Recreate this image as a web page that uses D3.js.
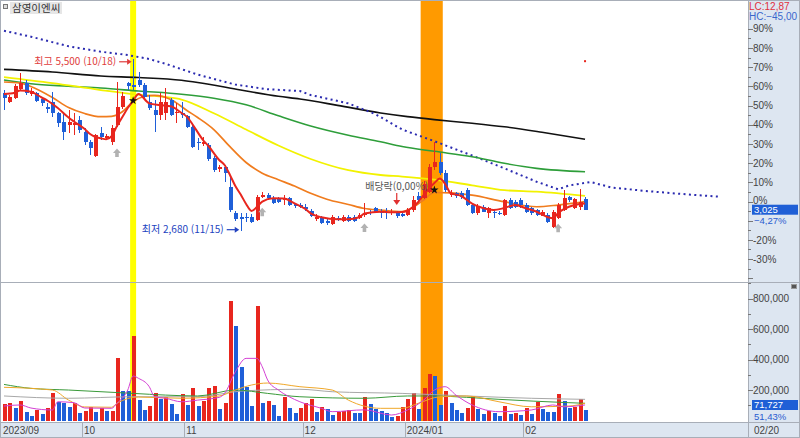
<!DOCTYPE html>
<html lang="ko">
<head>
<meta charset="utf-8">
<title>삼영이엔씨</title>
<script src="https://cdn.jsdelivr.net/npm/d3@7/dist/d3.min.js"></script>
<style>
html,body{margin:0;padding:0;background:#fff;}
svg{display:block;}
</style>
</head>
<body>
<svg id="chart" width="800" height="438"></svg>
<script>
// ---------------- DATA ----------------
const title = "삼영이엔씨";
const dates = [
"2023-09-07","2023-09-08","2023-09-11","2023-09-12","2023-09-13","2023-09-14","2023-09-15","2023-09-18","2023-09-19","2023-09-20","2023-09-21","2023-09-22","2023-09-25","2023-09-26","2023-09-27",
"2023-10-04","2023-10-05","2023-10-06","2023-10-10","2023-10-11","2023-10-12","2023-10-13","2023-10-16","2023-10-17","2023-10-18","2023-10-19","2023-10-20","2023-10-23","2023-10-24","2023-10-25","2023-10-26","2023-10-27","2023-10-30","2023-10-31",
"2023-11-01","2023-11-02","2023-11-03","2023-11-06","2023-11-07","2023-11-08","2023-11-09","2023-11-10","2023-11-13","2023-11-14","2023-11-15","2023-11-16","2023-11-17","2023-11-20","2023-11-21","2023-11-22","2023-11-23","2023-11-24","2023-11-27","2023-11-28","2023-11-29","2023-11-30",
"2023-12-01","2023-12-04","2023-12-05","2023-12-06","2023-12-07","2023-12-08","2023-12-11","2023-12-12","2023-12-13","2023-12-14","2023-12-15","2023-12-18","2023-12-19","2023-12-20","2023-12-21","2023-12-22","2023-12-26","2023-12-27","2023-12-28",
"2024-01-02","2024-01-03","2024-01-04","2024-01-05","2024-01-08","2024-01-09","2024-01-10","2024-01-11","2024-01-12","2024-01-15","2024-01-16","2024-01-17","2024-01-18","2024-01-19","2024-01-22","2024-01-23","2024-01-24","2024-01-25","2024-01-26","2024-01-29","2024-01-30","2024-01-31",
"2024-02-01","2024-02-02","2024-02-05","2024-02-06","2024-02-07","2024-02-08","2024-02-13","2024-02-14","2024-02-15","2024-02-16","2024-02-19","2024-02-20"];

const open = [4950,4795,4860,5005,5115,4930,4940,4840,4710,4805, 4610,4475,4420,4420,4500,4310,4145,3910,4290,4200, 4145,4420,4720,5110,5080,5160,5080,4805,4665,4585, 4615,4830,4610,4610,4565,4390,4145,4105,4090,3870, 3690,3735,3405,2965,2905,2910,2910,2855,3240,3265, 3215,3195,3185,3215,3120,3100,3075,3010,2865,2900, 2845,2790,2890,2845,2910,2910,2895,2940,2990,3045, 2990,2990,2965,2965,2955,2940,3020,3250,3215,3320, 3735,3815,3625,3265,3295,3305,3350,3100,2965,3075, 2965,2990,2975,2940,3185,3155,3185,3100,3045,3020, 2925,2940,2745,2885,3020,3230,3045,3075,3200];
const high = [4995,4910,5095,5280,5160,5030,4960,4885,4775,4960, 4635,4615,4665,4615,4565,4370,4170,4270,4390,4270, 4420,5130,4960,5130,5500,5295,5110,4910,4830,4945, 5030,4865,4775,4805,4585,4420,4205,4225,4125,3910, 3760,3760,3570,3005,2970,2965,2955,3265,3315,3305, 3250,3235,3265,3235,3135,3130,3120,3035,2955,2920, 2890,2940,2920,2940,2940,2935,2970,3130,3020,3070, 3030,3045,3035,3005,2990,3055,3250,3315,3495,3775, 4145,3960,3680,3350,3320,3335,3380,3135,3120,3100, 3070,3020,3005,3200,3210,3185,3215,3135,3070,3035, 3020,2970,3020,3130,3350,3250,3215,3360,3235];
const low = [4665,4780,4845,4995,4910,4895,4800,4730,4610,4555, 4390,4170,4285,4255,4285,4090,3925,3890,4170,4170, 4090,4385,4690,4995,4990,5045,4865,4665,4310,4500, 4500,4565,4445,4535,4370,4040,4010,4075,3825,3645, 3650,3485,2985,2840,2680,2830,2805,2840,3215,3185, 3125,3135,3100,3085,3060,3050,3005,2905,2840,2790, 2775,2775,2840,2825,2830,2825,2880,2910,2940,2970, 2885,2865,2945,2895,2905,2920,2990,3170,3200,3300, 3680,3595,3315,3240,3215,3200,3085,2955,2945,2980, 2885,2885,2930,2920,3035,3055,3050,2970,2945,2915, 2915,2805,2725,2870,3005,3155,3035,3020,3020];
const close = [4860,4885,5060,5105,4940,4985,4820,4775,4690,4610, 4445,4310,4475,4455,4335,4145,4035,4255,4225,4240, 4365,4720,4900,5060,5040,5080,4885,4700,4585,4805, 4805,4585,4640,4585,4390,4060,4120,4145,3855,3680, 3725,3625,3020,2865,2865,2885,2830,3240,3265,3215, 3140,3155,3215,3100,3085,3075,3030,2920,2910,2810, 2800,2900,2865,2910,2845,2845,2940,2975,2965,2990, 2965,2965,2990,2920,2925,3020,3185,3185,3450,3735, 3815,3625,3350,3300,3250,3230,3100,2965,3085,2990, 3045,2965,2955,3185,3045,3075,3100,2990,2965,2940, 2990,2830,2990,3100,3215,3185,3195,3160,3025];
const volume = [106000,113000,80000,128000,54000,31000,69000,43000,80000,178000, 123000,113000,90000,113000,47000,64000,87000,54000,80000,62000, 64000,408000,195000,192000,554000,134000,69000,95000,178000,139000, 156000,108000,41000,174000,102000,211000,95000,130000,211000,228000, 75000,117000,784000,622000,349000,218000,95000,751000,117000,128000, 102000,30000,156000,84000,51000,80000,117000,141000,58000,87000, 75000,36000,54000,62000,69000,51000,50000,156000,108000,75000, 62000,47000,25000,30000,90000,143000,178000,75000,215000,305000, 294000,102000,193000,113000,69000,51000,84000,161000,75000,41000, 62000,47000,31000,95000,43000,51000,36000,80000,43000,121000, 75000,58000,57000,172000,128000,80000,90000,139470,71727];

// moving averages: [day index, price]
const ma5 = [[0,4929],[2,4951],[3,4987],[5,4967],[7,4872],[8,4826],[10,4699],[12,4543],[13,4477],[15,4353],[16,4271],[17,4222],[18,4200],[19,4184],[20,4238],[21,4403],[22,4551],[23,4699],[24,4819],[25,4929],[27,4776],[29,4748],[31,4727],[33,4617],[34,4556],[35,4436],[37,4172],[38,4074],[40,3843],[41,3761],[42,3596],[43,3415],[44,3275],[45,3119],[46,3004],[47,3069],[48,3157],[50,3213],[52,3209],[54,3130],[56,3037],[57,2966],[59,2900],[62,2867],[64,2867],[66,2900],[67,2962],[70,2992],[72,2982],[74,2987],[75,3012],[76,3069],[77,3152],[78,3267],[80,3465],[81,3539],[82,3448],[83,3300],[85,3251],[87,3127],[89,3053],[91,3020],[93,3053],[95,3102],[97,3048],[99,2992],[101,2905],[102,2883],[103,2971],[105,3074],[107,3119],[108,3127]];
const ma20 = [[0,5127],[3,5110],[5,5053],[9,4872],[12,4707],[15,4608],[18,4556],[20,4562],[22,4638],[24,4803],[26,4888],[28,4908],[31,4839],[34,4658],[36,4543],[39,4345],[42,4062],[45,3802],[48,3626],[51,3519],[54,3415],[57,3295],[60,3198],[64,3111],[67,3045],[70,3020],[74,2995],[76,3061],[78,3185],[80,3308],[83,3303],[87,3264],[93,3157],[99,3074],[103,3102],[108,3157]];
const ma60 = [[0,5209],[9,5110],[18,4995],[25,4918],[30,4880],[33,4839],[39,4612],[45,4345],[51,4082],[57,3860],[64,3675],[70,3596],[74,3571],[80,3519],[87,3427],[93,3346],[99,3321],[108,3251]];
const ma120 = [[0,5160],[5,5099],[12,5058],[18,5028],[25,4979],[33,4926],[39,4860],[45,4752],[51,4571],[57,4403],[64,4251],[70,4144],[74,4065],[80,3986],[87,3897],[93,3789],[99,3706],[108,3650]];
const ma240 = [[0,5335],[9,5292],[18,5226],[25,5201],[33,5155],[36,5119],[44,4995],[51,4892],[55,4847],[62,4743],[70,4617],[75,4557],[80,4508],[87,4449],[93,4390],[100,4299],[108,4184]];
const leadLine = [[0,5971],[5,5873],[12,5715],[18,5626],[23,5571],[27,5506],[30,5428],[36,5249],[43,5084],[49,5008],[55,4979],[57,4913],[64,4776],[69,4600],[74,4345],[80,4153],[87,3917],[93,3706],[99,3486],[103,3361],[105,3423],[109,3481],[113,3389],[119,3336],[125,3290],[133,3239]];

// volume moving averages: [day index, shares]
const volMa5 = [[0,95000],[3,102000],[5,82000],[9,69000],[10,123000],[13,117000],[15,82000],[20,80000],[21,113000],[23,200000],[24,292000],[25,277000],[27,222000],[28,156000],[30,146000],[33,123000],[36,134000],[40,152000],[41,178000],[43,320000],[45,408000],[47,408000],[48,353000],[49,266000],[51,200000],[53,156000],[55,123000],[59,80000],[61,58000],[67,70000],[72,36000],[75,69000],[78,134000],[80,200000],[82,222000],[84,167000],[87,102000],[92,58000],[98,69000],[102,102000],[104,90000],[108,102000]];
const volMa20 = [[0,218000],[9,200000],[12,134000],[15,89000],[20,87000],[21,113000],[25,154000],[33,146000],[40,161000],[43,200000],[46,233000],[49,246000],[55,222000],[61,200000],[64,134000],[70,80000],[74,80000],[77,113000],[81,156000],[86,161000],[92,123000],[98,90000],[105,95000],[108,113000]];
const volMa60 = [[0,237000],[5,211000],[12,200000],[24,178000],[30,167000],[36,161000],[43,200000],[49,178000],[55,156000],[67,146000],[75,161000],[80,161000],[86,152000],[92,139000],[105,117000],[108,113000]];
const volMa120 = [[0,161000],[12,146000],[24,156000],[36,156000],[44,193000],[55,205000],[61,189000],[74,178000],[86,161000],[98,146000],[108,139000]];

const prevClose = 3160;
const pctTicks = [-30,-20,-10,0,10,20,30,40,50,60,70,80,90];
const volTicks = [200000,400000,600000,800000];
const yellowBand = ["2023-10-18","2023-10-18"];
const orangeBand = ["2024-01-05","2024-01-10"];
const upSignalDates = ["2023-10-13","2023-11-21","2023-12-18","2024-02-13"];
const upSignalPrices = [3960,2985,2725,2718];
const starDates = ["2023-10-18","2024-01-09"];
const starPrices = [4820,3350];
const exDivDate = "2023-12-27";
const exDivLabel = "배당락(0,00%)";
const redTickDate = "2024-02-20", redTickPrice = 5470;

// ---------------- LAYOUT ----------------
const W = 800, H = 438, axisX = 748;
const priceTop = 0, priceBot = 282, volTop = 283, volBot = 421, dateTop = 422;
const n = dates.length, step = 5.38;
const UP = "#e8261e", DN = "#1f5fd8";
const panelBg = "#dde6f1", lineCol = "#a8aeb8";
const numFont = "'Liberation Sans',Arial,sans-serif";
const krFont = "'Noto Sans CJK KR','Noto Sans',sans-serif";

const x = d3.scaleLinear().domain([0, n - 1]).range([4, 4 + step * (n - 1)]);
const priceDomain = [1835, 6477];
const y = d3.scaleLinear().domain(priceDomain).range([priceBot, priceTop]);
const pct = p => (p / prevClose - 1) * 100;
const yPct = d3.scaleLinear().domain(priceDomain.map(pct)).range([priceBot, priceTop]);
const yV = d3.scaleLinear().domain([0, 903000]).range([420.5, volTop]);
const idx = d => dates.indexOf(d);
const comma = (v, f) => d3.format(f)(v).replace(".", ",");

const svg = d3.select("#chart");
svg.append("rect").attr("width", W).attr("height", H).attr("fill", "#fff");

const defs = svg.append("defs");
defs.append("clipPath").attr("id", "cp").append("rect").attr("x", 1).attr("y", 1).attr("width", axisX - 1).attr("height", priceBot - 1);
defs.append("clipPath").attr("id", "cv").append("rect").attr("x", 1).attr("y", volTop).attr("width", axisX - 1).attr("height", volBot - volTop);

// highlight bands (full height)
const bands = svg.append("g");
[[yellowBand, "#ffff00"], [orangeBand, "#ff9a00"]].forEach(([b, col]) => {
  const a = idx(b[0]), e = idx(b[1]);
  bands.append("rect").attr("x", x(a) - step / 2 - 0.3).attr("width", x(e) - x(a) + step + 0.6)
    .attr("y", 1).attr("height", volBot - 1).attr("fill", col);
});

// ---------------- PRICE PANEL ----------------
const gp = svg.append("g").attr("clip-path", "url(#cp)");
const lineP = d3.line().x(d => x(d[0])).y(d => y(d[1])).curve(d3.curveMonotoneX);
gp.append("path").attr("d", lineP(ma240)).attr("fill", "none").attr("stroke", "#111").attr("stroke-width", 1.6);
gp.append("path").attr("d", d3.line().x(d => x(d[0])).y(d => y(d[1]))(leadLine)).attr("fill", "none")
  .attr("stroke", "#2b2bb0").attr("stroke-width", 2).attr("stroke-dasharray", "2,3.4");
gp.append("path").attr("d", lineP(ma120)).attr("fill", "none").attr("stroke", "#2e9e3a").attr("stroke-width", 1.6);
gp.append("path").attr("d", lineP(ma60)).attr("fill", "none").attr("stroke", "#f2f200").attr("stroke-width", 1.8);
gp.append("path").attr("d", lineP(ma20)).attr("fill", "none").attr("stroke", "#f07c1e").attr("stroke-width", 1.7);

const cdata = dates.map((d, i) => ({
  i, o: open[i], h: high[i], l: low[i], c: close[i],
  up: close[i] > open[i] || (close[i] === open[i] && i > 0 && close[i] >= close[i - 1])
}));
const cg = gp.append("g").attr("shape-rendering", "crispEdges");
cg.selectAll("rect.w").data(cdata).join("rect").attr("class", "w")
  .attr("x", d => Math.round(x(d.i))).attr("width", 1)
  .attr("y", d => y(d.h)).attr("height", d => Math.max(1, y(d.l) - y(d.h)))
  .attr("fill", d => d.up ? UP : DN);
cg.selectAll("rect.b").data(cdata).join("rect").attr("class", "b")
  .attr("x", d => Math.round(x(d.i)) - 1.5).attr("width", 4)
  .attr("y", d => y(Math.max(d.o, d.c))).attr("height", d => Math.max(1.2, Math.abs(y(d.o) - y(d.c))))
  .attr("fill", d => d.up ? UP : DN);

gp.append("path").attr("d", lineP(ma5)).attr("fill", "none").attr("stroke", UP).attr("stroke-width", 2);

// markers
const arrowPath = "M0,-4.5L4,0L1.8,0L1.8,4L-1.8,4L-1.8,0L-4,0Z";
upSignalDates.forEach((d, k) => {
  gp.append("path").attr("d", arrowPath).attr("transform", `translate(${x(idx(d))},${y(upSignalPrices[k])})`).attr("fill", "#b2b2b2");
});
starDates.forEach((d, k) => {
  gp.append("path").attr("d", d3.symbol(d3.symbolStar).size(22)()).attr("transform", `translate(${x(idx(d))},${y(starPrices[k])})`).attr("fill", "#111");
});
gp.append("rect").attr("x", x(idx(redTickDate)) - 1).attr("y", y(redTickPrice) - 1).attr("width", 2).attr("height", 2).attr("fill", UP);

// highest / lowest annotations
const hiI = d3.maxIndex(high), loI = d3.minIndex(low);
const md = d => d.slice(5, 7) + "/" + d.slice(8, 10);
const ann = svg.append("g");
function annot(i, price, label, col) {
  const ax = x(i), ay = y(price);
  ann.append("text").attr("x", ax - 17).attr("y", ay + 3.5).attr("text-anchor", "end")
    .attr("font-family", krFont).attr("font-size", 10).attr("fill", col).text(label);
  ann.append("line").attr("x1", ax - 14).attr("x2", ax - 5).attr("y1", ay).attr("y2", ay).attr("stroke", col).attr("stroke-width", 1.2);
  ann.append("path").attr("d", `M${ax - 1.5},${ay}L${ax - 6},${ay - 3}L${ax - 6},${ay + 3}Z`).attr("fill", col);
}
annot(hiI, high[hiI] - 40, `최고 ${d3.format(",")(high[hiI])} (${md(dates[hiI])})`, "#e03c3c");
annot(loI, low[loI] + 16, `최저 ${d3.format(",")(low[loI])} (${md(dates[loI])})`, "#2242c0");

// ex-dividend
const ei = idx(exDivDate), ex = x(ei), ey = y(high[ei]) - 6;
ann.append("text").attr("x", ex).attr("y", ey - 15).attr("text-anchor", "middle")
  .attr("font-family", krFont).attr("font-size", 10).attr("fill", "#555").text(exDivLabel);
ann.append("line").attr("x1", ex).attr("x2", ex).attr("y1", ey - 12).attr("y2", ey - 4).attr("stroke", "#e03030").attr("stroke-width", 1.2);
ann.append("path").attr("d", `M${ex},${ey}L${ex - 3.5},${ey - 5}L${ex + 3.5},${ey - 5}Z`).attr("fill", "#e03030");

// ---------------- VOLUME PANEL ----------------
const gv = svg.append("g").attr("clip-path", "url(#cv)");
gv.append("g").attr("shape-rendering", "crispEdges").selectAll("rect").data(volume).join("rect")
  .attr("x", (v, i) => Math.round(x(i)) - 1.5).attr("width", 4)
  .attr("y", v => yV(v)).attr("height", v => volBot - yV(v))
  .attr("fill", (v, i) => (i === 0 || v > volume[i - 1]) ? UP : DN);
const lineV = d3.line().x(d => x(d[0])).y(d => yV(d[1])).curve(d3.curveMonotoneX);
[[volMa120, "#a8a8a8"], [volMa60, "#3a9a3a"], [volMa20, "#f0a82a"], [volMa5, "#d43fd4"]].forEach(([s, c]) => {
  gv.append("path").attr("d", lineV(s)).attr("fill", "none").attr("stroke", c).attr("stroke-width", 1);
});

// ---------------- FRAMES / AXIS PANELS ----------------
svg.append("rect").attr("x", axisX).attr("y", 0).attr("width", W - axisX).attr("height", H).attr("fill", panelBg);
svg.append("rect").attr("x", 0).attr("y", dateTop).attr("width", W).attr("height", H - dateTop).attr("fill", panelBg);
const fr = svg.append("g").attr("stroke", lineCol).attr("shape-rendering", "crispEdges");
fr.append("line").attr("x1", 0).attr("x2", W).attr("y1", 0.5).attr("y2", 0.5);
fr.append("line").attr("x1", 0.5).attr("x2", 0.5).attr("y1", 0).attr("y2", H);
fr.append("line").attr("x1", axisX + 0.5).attr("x2", axisX + 0.5).attr("y1", 0).attr("y2", H);
fr.append("line").attr("x1", 0).attr("x2", W).attr("y1", priceBot + 0.5).attr("y2", priceBot + 0.5);
fr.append("line").attr("x1", 0).attr("x2", W).attr("y1", dateTop + 0.5).attr("y2", dateTop + 0.5);
fr.append("line").attr("x1", W - 0.5).attr("x2", W - 0.5).attr("y1", 0).attr("y2", H);
fr.append("line").attr("x1", 0).attr("x2", W).attr("y1", H - 0.5).attr("y2", H - 0.5);

// title
svg.append("rect").attr("x", 3.5).attr("y", 4.5).attr("width", 4).attr("height", 4).attr("fill", "#ddd").attr("stroke", "#777");
svg.append("rect").attr("x", 10).attr("y", 2).attr("width", 52).attr("height", 12).attr("fill", "#e6e6e6");
svg.append("text").attr("x", 12).attr("y", 11.5).attr("font-family", krFont).attr("font-size", 10.5).attr("fill", "#333").text(title);

// price axis (percent of previous close)
const last = n - 1, lastC = close[last];
const ly = y(lastC);
const ax = svg.append("g");
d3.range(-40, 100, 5).forEach(t => {
  const yy = Math.round(yPct(t)) + 0.5;
  if (yy < 24 || yy > priceBot - 1) return;
  ax.append("line").attr("x1", axisX).attr("x2", axisX + (t % 10 === 0 ? 5 : 3)).attr("y1", yy).attr("y2", yy).attr("stroke", "#777");
});
pctTicks.forEach(t => {
  const ty = yPct(t);
  if (ty > ly + 4 && ty < ly + 22) return;          // hidden behind the last-price tag
  const by = Math.abs(ty - ly) < 10 ? ly - 6 : ty + 3.6;
  ax.append("text").attr("x", axisX + 5).attr("y", by).attr("font-family", numFont).attr("font-size", 10)
    .attr("fill", "#444").text(t + "%");
});
// LC / HC
const LC = (lastC / d3.min(low) - 1) * 100, HC = (lastC / d3.max(high) - 1) * 100;
ax.append("text").attr("x", axisX + 1).attr("y", 9.5).attr("font-family", numFont).attr("font-size", 10).attr("fill", "#e0303c").text("LC:" + comma(LC, ".2f"));
ax.append("text").attr("x", axisX + 1).attr("y", 19.5).attr("font-family", numFont).attr("font-size", 10).attr("fill", "#3a66cc").text("HC:" + comma(HC, ".2f"));
// last price tag
ax.append("rect").attr("x", axisX + 4).attr("y", ly - 5).attr("width", 46).attr("height", 10).attr("fill", "#1f5fd6");
ax.append("text").attr("x", axisX + 6).attr("y", ly + 3.4).attr("font-family", numFont).attr("font-size", 9.5).attr("fill", "#fff").text(d3.format(",")(lastC));
ax.append("text").attr("x", axisX + 6).attr("y", ly + 14.6).attr("font-family", numFont).attr("font-size", 9.5).attr("fill", "#2a5cd0")
  .text(comma(pct(lastC), ".2f") + "%");

// volume axis
d3.range(100000, 901000, 100000).forEach(t => {
  const yy = Math.round(yV(t)) + 0.5;
  ax.append("line").attr("x1", axisX).attr("x2", axisX + (t % 200000 === 0 ? 5 : 3)).attr("y1", yy).attr("y2", yy).attr("stroke", "#777");
});
volTicks.forEach(t => {
  ax.append("text").attr("x", axisX + 5).attr("y", yV(t) + 3.6).attr("font-family", numFont).attr("font-size", 10).attr("fill", "#444").text(d3.format(",")(t));
});
const lv = volume[last], vy = Math.min(yV(lv), volBot - 16);
ax.append("rect").attr("x", axisX + 4).attr("y", vy - 5).attr("width", 46).attr("height", 10).attr("fill", "#1f5fd6");
ax.append("text").attr("x", axisX + 6).attr("y", vy + 3.4).attr("font-family", numFont).attr("font-size", 9.5).attr("fill", "#fff").text(d3.format(",")(lv));
ax.append("text").attr("x", axisX + 6).attr("y", vy + 14.6).attr("font-family", numFont).attr("font-size", 9.5).attr("fill", "#2a5cd0")
  .text(comma(lv / volume[last - 1] * 100, ".2f") + "%");
ax.append("rect").attr("x", 791.5).attr("y", 284.5).attr("width", 5).attr("height", 4).attr("fill", "#555").attr("stroke", "#999");

// date axis
let prevYear = null;
dates.forEach((d, i) => {
  const m = d.slice(5, 7), yr = d.slice(0, 4);
  if (i === 0 || m !== dates[i - 1].slice(5, 7)) {
    const bx = i === 0 ? 1 : x(i - 0.5);
    if (i > 0) ax.append("line").attr("x1", Math.round(bx) + 0.5).attr("x2", Math.round(bx) + 0.5).attr("y1", dateTop).attr("y2", H).attr("stroke", lineCol);
    const lab = yr !== prevYear ? yr + "/" + m : m;
    prevYear = yr;
    ax.append("text").attr("x", bx + 2).attr("y", 434).attr("font-family", numFont).attr("font-size", 10).attr("fill", "#444").text(lab);
  }
});
ax.append("text").attr("x", axisX + 6).attr("y", 434).attr("font-family", numFont).attr("font-size", 10).attr("fill", "#444").text(md(dates[last]));
</script>
</body>
</html>
